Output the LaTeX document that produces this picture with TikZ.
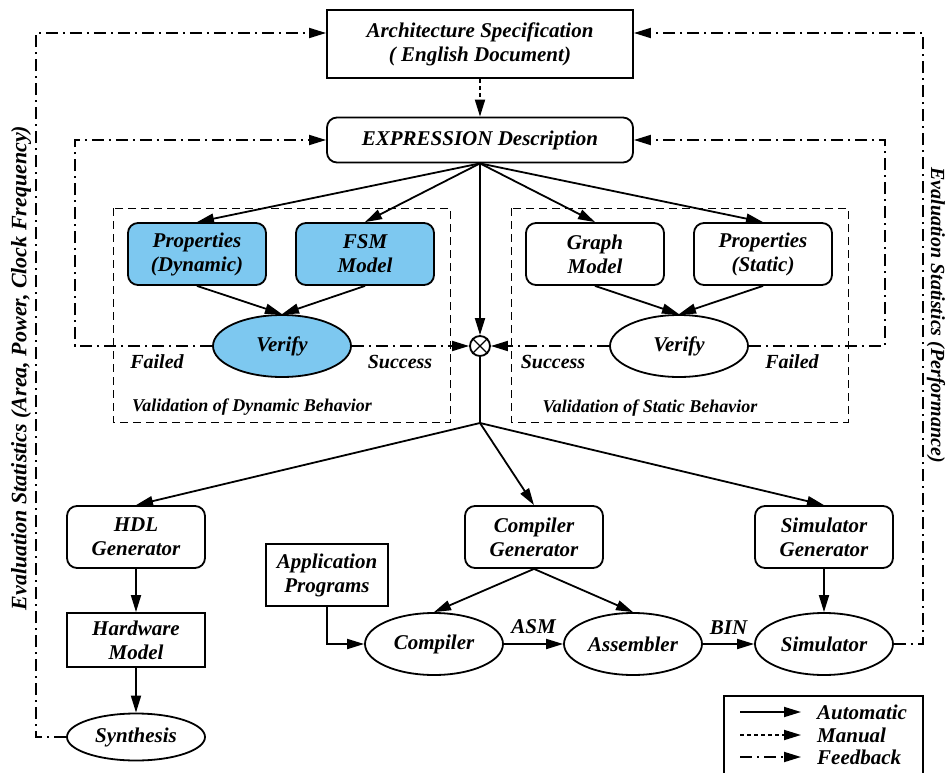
\documentclass[tikz,border=0pt]{standalone}
\usepackage{fontspec}
\setmainfont{Liberation Serif}
\usetikzlibrary{shapes.geometric,arrows.meta,calc}
\definecolor{lblue}{RGB}{125,200,240}
\tikzset{
  lab/.style={font=\fontsize{21}{24}\selectfont\bfseries\itshape, align=center, inner sep=0pt},
  slab/.style={font=\fontsize{18}{20}\selectfont\bfseries\itshape, inner sep=0pt},
  mlab/.style={font=\fontsize{20}{22}\selectfont\bfseries\itshape, inner sep=0pt},
  rbox/.style={lab, draw, line width=1.8pt, rounded corners=10pt, minimum width=138pt, minimum height=62pt},
  sbox/.style={lab, draw, line width=1.8pt, minimum width=138pt, minimum height=54pt},
  ell/.style={lab, draw, ellipse, line width=1.8pt, minimum width=138pt, minimum height=62pt},
  tip/.style={-{Triangle[length=17pt,width=10pt]}},
  auto/.style={tip, line width=1.8pt},
  manual/.style={tip, line width=1.8pt, dash pattern=on 4pt off 3pt},
  fb/.style={tip, line width=1.8pt, dash pattern=on 12pt off 5pt on 2pt off 5pt},
  region/.style={draw, line width=1pt, dash pattern=on 8pt off 5pt},
  side/.style={font=\fontsize{22}{24}\selectfont\bfseries\itshape, inner sep=0pt}
}
\begin{document}
\begin{tikzpicture}[x=1pt,y=-1pt]
\useasboundingbox (0,0) rectangle (948,773);
% top
\node[sbox, minimum width=306pt, minimum height=68pt] (arch) at (480,44) {Architecture Specification\\( English Document)};
\node[rbox, minimum width=306pt, minimum height=45pt] (expr) at (480,140) {EXPRESSION Description};
\draw[manual] (arch.south) -- (expr.north);
% regions
\draw[region] (113,208) rectangle (450,422);
\draw[region] (511,208) rectangle (848,422);
\node[slab] (vd) at (252,407) {Validation of Dynamic Behavior};
\node[slab] (vs) at (650,408) {Validation of Static Behavior};
% dynamic
\node[rbox, fill=lblue] (pd) at (197,254) {Properties\\(Dynamic)};
\node[rbox, fill=lblue] (fsm) at (365,254) {FSM\\Model};
\node[ell, fill=lblue] (vfd) at (282,346) {Verify};
% static
\node[rbox] (gm) at (595,254) {Graph\\Model};
\node[rbox] (ps) at (763,254) {Properties\\(Static)};
\node[ell] (vfs) at (679,346) {Verify};
% otimes
\node[draw, circle, line width=1.8pt, minimum size=20pt, inner sep=0pt] (ox) at (480,346) {};
\draw[line width=1.3pt] (ox.north west) -- (ox.south east) (ox.north east) -- (ox.south west);
\coordinate (j) at (480,423);
% expression arrows
\draw[auto] (expr.south) -- (pd.north);
\draw[auto] (expr.south) -- (fsm.north);
\draw[auto] (expr.south) -- (gm.north);
\draw[auto] (expr.south) -- (ps.north);
\draw[auto] (expr.south) -- (ox.north);
\draw[auto] (pd.south) -- (vfd.north);
\draw[auto] (fsm.south) -- (vfd.north);
\draw[auto] (gm.south) -- (vfs.north);
\draw[auto] (ps.south) -- (vfs.north);
% verify outputs
\draw[fb] (vfd.east) -- (ox.west);
\draw[fb] (vfs.west) -- (ox.east);
\coordinate (il) at (75,346);
\coordinate (ir) at (885,346);
\draw[fb] (vfd.west) -- (il) -- (il |- expr.west) -- (expr.west);
\draw[fb] (vfs.east) -- (ir) -- (ir |- expr.east) -- (expr.east);
\node[mlab] (fl1) at (157,362) {Failed};
\node[mlab] (sc1) at (400,362) {Success};
\node[mlab] (sc2) at (553,362) {Success};
\node[mlab] (fl2) at (792,362) {Failed};
% lower
\draw[line width=1.8pt] (ox.south) -- (j);
\node[rbox] (hdl) at (136,537) {HDL\\Generator};
\node[rbox] (cg) at (534,537) {Compiler\\Generator};
\node[rbox] (sg) at (824,537) {Simulator\\Generator};
\draw[auto] (j) -- (hdl.north);
\draw[auto] (j) -- (cg.north);
\draw[auto] (j) -- (sg.north);
\node[sbox] (hm) at (136,640) {Hardware\\Model};
\node[ell, minimum height=47pt] (syn) at (136,737) {Synthesis};
\draw[auto] (hdl.south) -- (hm.north);
\draw[auto] (hm.south) -- (syn.north);
\node[sbox, minimum width=122pt, minimum height=62pt] (app) at (327,575) {Application\\Programs};
\node[ell] (comp) at (434,644) {Compiler};
\node[ell] (asm) at (633,644) {Assembler};
\node[ell] (sim) at (824,644) {Simulator};
\draw[auto] (app.south) |- (comp.west);
\draw[auto] (cg.south) -- (comp.north);
\draw[auto] (cg.south) -- (asm.north);
\draw[auto] (comp.east) -- node[lab, above=9pt] (asml) {ASM} (asm.west);
\draw[auto] (asm.east) -- node[lab, above=9pt] (binl) {BIN} (sim.west);
\draw[auto] (sg.south) -- (sim.north);
% outer feedback
\coordinate (ol) at (36,33);
\coordinate (or) at (923,33);
\draw[fb] (syn.west) -- (ol |- syn.west) -- (ol) -- (ol -| arch.west);
\draw[fb] (sim.east) -- (or |- sim.east) -- (or) -- (or -| arch.east);
\node[side, rotate=90] (lt) at (21,368) {Evaluation Statistics (Area, Power, Clock Frequency)};
\node[side, font=\fontsize{20}{22}\selectfont\bfseries\itshape, rotate=-90] (rt) at (936,315) {Evaluation Statistics (Performance)};
% legend
\draw[line width=1.8pt] (724,780) -- (724,696) -- (923,696) -- (923,780);
\coordinate (l1a) at (740,712); \coordinate (l1b) at (801,712);
\coordinate (l2a) at (740,735); \coordinate (l2b) at (801,735);
\coordinate (l3a) at (740,757); \coordinate (l3b) at (801,757);
\draw[auto] (l1a) -- (l1b);
\draw[manual] (l2a) -- (l2b);
\draw[fb] (l3a) -- (l3b);
\node[lab, anchor=west] (t1) at (817,712) {Automatic};
\node[lab, anchor=west] (t2) at (817,735) {Manual};
\node[lab, anchor=west] (t3) at (817,757) {Feedback};
\end{tikzpicture}
\end{document}
